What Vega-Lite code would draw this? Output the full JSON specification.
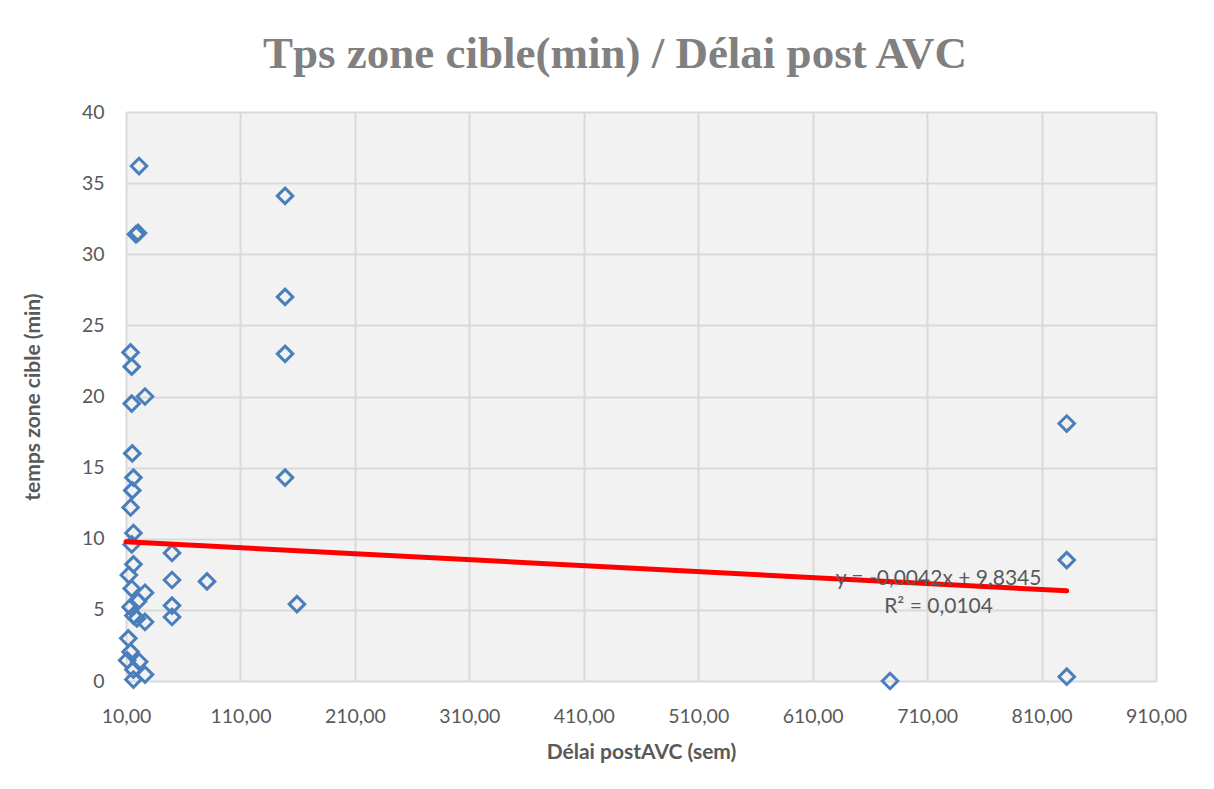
{
  "$schema": "https://vega.github.io/schema/vega-lite/v6.json",
  "autosize": "none",
  "width": 1030,
  "height": 569,
  "padding": {"left": 126, "top": 112, "right": 58, "bottom": 108},
  "background": "white",
  "title": {
    "text": "Tps zone cible(min)  / Délai post AVC",
    "font": "Liberation Serif",
    "fontSize": 45,
    "fontWeight": "bold",
    "color": "#808080",
    "anchor": "middle",
    "dx": -26,
    "offset": 25
  },
  "config": {
    "view": {"stroke": null, "fill": "#f2f2f2"},
    "axis": {
      "labelFont": "Lato",
      "labelFontSize": 19.5,
      "labelColor": "#595959",
      "labelFlush": false,
      "titleFont": "Lato",
      "titleFontSize": 21,
      "titleFontWeight": "bold",
      "titleColor": "#595959",
      "gridColor": "#d9d9d9",
      "gridWidth": 2,
      "ticks": false,
      "domain": false
    }
  },
  "datasets": {
    "points": [
      {"delai": 21.4, "temps": 36.2},
      {"delai": 18.7, "temps": 31.4},
      {"delai": 20.5, "temps": 31.5},
      {"delai": 14, "temps": 23.1},
      {"delai": 15, "temps": 22.1},
      {"delai": 15, "temps": 19.5},
      {"delai": 26.6, "temps": 20.0},
      {"delai": 15.5, "temps": 16.0},
      {"delai": 16.5, "temps": 14.3},
      {"delai": 15.5, "temps": 13.4},
      {"delai": 14, "temps": 12.2},
      {"delai": 16.5, "temps": 10.4},
      {"delai": 15, "temps": 9.6},
      {"delai": 16.5, "temps": 8.2},
      {"delai": 50.2, "temps": 9.0},
      {"delai": 12.5, "temps": 7.45},
      {"delai": 50.2, "temps": 7.1},
      {"delai": 80.8, "temps": 7.0},
      {"delai": 15, "temps": 6.5},
      {"delai": 26.6, "temps": 6.2},
      {"delai": 20.5, "temps": 5.6},
      {"delai": 14, "temps": 5.2},
      {"delai": 50.2, "temps": 5.3},
      {"delai": 16.5, "temps": 4.6},
      {"delai": 19.5, "temps": 4.4},
      {"delai": 26.6, "temps": 4.15},
      {"delai": 50.2, "temps": 4.5},
      {"delai": 12, "temps": 3.0},
      {"delai": 14, "temps": 2.05},
      {"delai": 11, "temps": 1.45},
      {"delai": 21.5, "temps": 1.35},
      {"delai": 16.5, "temps": 0.8},
      {"delai": 26.6, "temps": 0.45},
      {"delai": 16.5, "temps": 0.1},
      {"delai": 149, "temps": 34.1},
      {"delai": 149, "temps": 27.0},
      {"delai": 149, "temps": 23.0},
      {"delai": 149, "temps": 14.3},
      {"delai": 159.4, "temps": 5.4},
      {"delai": 677.6, "temps": 0},
      {"delai": 832, "temps": 18.1},
      {"delai": 832, "temps": 8.5},
      {"delai": 832, "temps": 0.3}
    ],
    "trend": [
      {"delai": 10, "temps": 9.7925},
      {"delai": 832, "temps": 6.3401}
    ],
    "labels": [
      {"delai": 720, "temps": 7.2, "text": "y = -0,0042x + 9,8345"},
      {"delai": 720, "temps": 5.2, "text": "R² = 0,0104"}
    ]
  },
  "layer": [
    {
      "data": {"name": "points"},
      "mark": {"type": "point", "shape": "diamond", "size": 240, "filled": false, "stroke": "#4a7ebb", "strokeWidth": 3, "opacity": 1},
      "encoding": {
        "x": {
          "field": "delai",
          "type": "quantitative",
          "scale": {"domain": [10, 910], "nice": false, "zero": false},
          "axis": {
            "values": [10, 110, 210, 310, 410, 510, 610, 710, 810, 910],
            "labelExpr": "replace(format(datum.value, '.2f'), '.', ',')",
            "labelPadding": 26,
            "title": "Délai postAVC (sem)",
            "titlePadding": 16
          }
        },
        "y": {
          "field": "temps",
          "type": "quantitative",
          "scale": {"domain": [0, 40], "nice": false},
          "axis": {
            "values": [0, 5, 10, 15, 20, 25, 30, 35, 40],
            "labelPadding": 22,
            "title": "temps zone cible (min)",
            "titlePadding": 38
          }
        }
      }
    },
    {
      "data": {"name": "trend"},
      "mark": {"type": "line", "color": "#ff0000", "strokeWidth": 5, "strokeCap": "round"},
      "encoding": {
        "x": {"field": "delai", "type": "quantitative"},
        "y": {"field": "temps", "type": "quantitative"}
      }
    },
    {
      "data": {"name": "labels"},
      "mark": {"type": "text", "font": "Lato", "fontSize": 21, "color": "#595959", "align": "center", "baseline": "middle"},
      "encoding": {
        "x": {"field": "delai", "type": "quantitative"},
        "y": {"field": "temps", "type": "quantitative"},
        "text": {"field": "text"}
      }
    }
  ]
}
